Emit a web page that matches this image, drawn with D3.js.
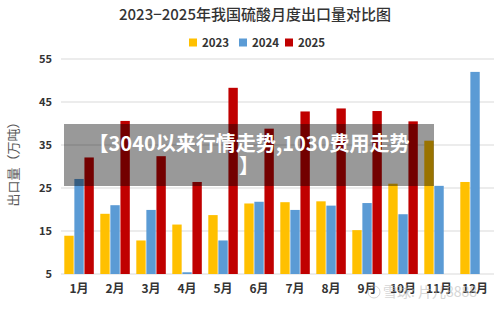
<!DOCTYPE html>
<html>
<head>
<meta charset="utf-8">
<style>
    body { margin: 0; background: #fff; }
    text { font-family: "Noto Sans CJK SC", "Noto Sans", sans-serif; }
</style>
</head>
<body>
<svg id="chart" width="500" height="310"></svg>
<script src="https://cdn.jsdelivr.net/npm/d3@7"></script>
<script>
    // data (万吨)
    let months = ["1月", "2月", "3月", "4月", "5月", "6月", "7月", "8月", "9月", "10月", "11月", "12月"]
    let years = ["2023", "2024", "2025"]
    let v2023 = [13.9, 19.0, 12.8, 16.5, 18.7, 21.4, 21.7, 21.9, 15.2, 26.0, 36.0, 26.4]
    let v2024 = [27.1, 21.0, 19.9, 5.4, 12.8, 21.8, 19.9, 20.9, 21.5, 18.9, 25.5, 52.0]
    let v2025 = [32.1, 40.6, 32.4, 26.4, 48.3, 38.8, 42.8, 43.5, 42.9, 40.5, null, null]
    let yTicks = [5, 15, 25, 35, 45, 55]
    let colors = ["#FFC000", "#5B9BD5", "#C00000"]

    let svg = d3.select("#chart")

    let x = d3.scaleBand().domain(months).range([61, 493]) // one band per month
    let x1 = d3.scaleBand().domain(years).range([3.3, 32.8]).paddingInner(0.07) // bars inside a month
    let y = d3.scaleLinear().domain([5, 55]).range([274, 59])

    // gridlines
    svg.append("g").selectAll("line")
        .data(yTicks)
        .enter().append("line")
        .attr("x1", 61).attr("x2", 494)
        .attr("y1", d => y(d)).attr("y2", d => y(d))
        .attr("stroke", "#d9d9d9")
        .attr("stroke-width", 1)

    // y axis labels
    let yAxis = d3.axisLeft(y).tickValues(yTicks).tickSize(0).tickPadding(0)
    svg.append("g")
        .attr("transform", "translate(52,0)")
        .call(yAxis)
        .call(g => g.select(".domain").remove())
        .selectAll("text")
        .attr("font-size", 11).attr("font-weight", "bold").attr("fill", "#333")
        .attr("font-family", "'Noto Sans CJK SC', sans-serif")

    // x axis labels
    let xAxis = d3.axisBottom(x).tickSize(0).tickPadding(0)
    svg.append("g")
        .attr("transform", "translate(0,284)")
        .call(xAxis)
        .call(g => g.select(".domain").remove())
        .selectAll("text")
        .attr("font-size", 12).attr("font-weight", "bold").attr("fill", "#333")
        .attr("font-family", "'Noto Sans CJK SC', sans-serif")

    // bars
    let series = [v2023, v2024, v2025]
    series.forEach((vals, i) => {
        svg.append("g").selectAll("rect")
            .data(vals.map((v, j) => ({ m: months[j], v: v })).filter(d => d.v != null))
            .enter().append("rect")
            .attr("x", d => x(d.m) + x1(years[i]))
            .attr("width", x1.bandwidth())
            .attr("y", d => y(d.v))
            .attr("height", d => y(5) - y(d.v))
            .attr("fill", colors[i])
    })

    // title
    svg.append("text")
        .attr("x", 255).attr("y", 20)
        .attr("text-anchor", "middle")
        .attr("font-size", 15).attr("font-weight", 500).attr("fill", "#333")
        .text("2023−2025年我国硫酸月度出口量对比图")

    // legend
    let legendX = [189, 239, 285]
    years.forEach((yr, i) => {
        svg.append("rect")
            .attr("x", legendX[i]).attr("y", 38.5)
            .attr("width", 8).attr("height", 8)
            .attr("fill", colors[i])
        svg.append("text")
            .attr("x", legendX[i] + 13).attr("y", 46.5)
            .attr("font-size", 11.5).attr("font-weight", "bold").attr("fill", "#333")
            .text(yr)
    })

    // y axis title
    svg.append("text")
        .attr("transform", "translate(18,161) rotate(-90)")
        .attr("text-anchor", "middle")
        .attr("font-size", 13).attr("fill", "#595959")
        .text("出口量（万吨）")

    // dark banner on top
    svg.append("rect")
        .attr("x", 64).attr("y", 124)
        .attr("width", 370).attr("height", 62)
        .attr("fill", "#000").attr("opacity", 0.4)
    svg.append("text")
        .attr("x", 249).attr("y", 151)
        .attr("text-anchor", "middle")
        .attr("font-size", 20).attr("font-weight", "bold").attr("fill", "#fff")
        .text("【3040以来行情走势,1030费用走势")
    svg.append("text")
        .attr("x", 249).attr("y", 173)
        .attr("text-anchor", "middle")
        .attr("font-size", 20).attr("font-weight", "bold").attr("fill", "#fff")
        .text("】")

    // faint watermark
    svg.append("circle")
        .attr("cx", 374).attr("cy", 292).attr("r", 6)
        .attr("fill", "none").attr("stroke", "#bbb").attr("stroke-width", 1).attr("opacity", 0.6)
    svg.append("text")
        .attr("x", 383).attr("y", 297)
        .attr("font-size", 14).attr("fill", "#bbb").attr("opacity", 0.6)
        .text("雪球: 片儿8888")
</script>
</body>
</html>
